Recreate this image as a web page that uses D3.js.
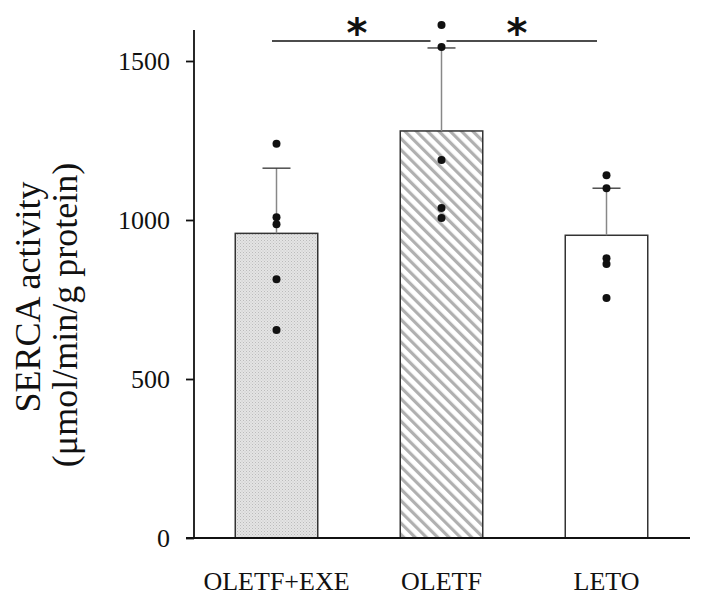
<!DOCTYPE html>
<html><head><meta charset="utf-8">
<script src="https://cdn.jsdelivr.net/npm/d3@7/dist/d3.min.js"></script>
<style>body{margin:0;background:#fff}svg{display:block}</style>
</head><body>
<svg id="c" width="709" height="598"></svg>
<script>
const categories = ["OLETF+EXE", "OLETF", "LETO"];
const means = [958, 1280, 952];
const sdUpper = [1163, 1541, 1100];
const points = [
  [1240, 1009, 987, 814, 654],
  [1613, 1544, 1189, 1038, 1006],
  [1141, 1100, 880, 862, 755]
];
const yTicks = [0, 500, 1000, 1500];
const fills = ["url(#dots)", "url(#hatch)", "#ffffff"];
const serif = "'Liberation Serif', 'Times New Roman', serif";

const svg = d3.select("#c");
const defs = svg.append("defs");
const dp = defs.append("pattern").attr("id","dots").attr("patternUnits","userSpaceOnUse").attr("width",3).attr("height",3);
dp.append("rect").attr("width",3).attr("height",3).attr("fill","#e4e4e4");
dp.append("rect").attr("x",0).attr("y",0).attr("width",1).attr("height",1).attr("fill","#bbbbbb");
dp.append("rect").attr("x",1.5).attr("y",1.5).attr("width",1).attr("height",1).attr("fill","#c6c6c6");
const hp = defs.append("pattern").attr("id","hatch").attr("patternUnits","userSpaceOnUse").attr("width",8).attr("height",8).attr("patternTransform","rotate(-45)");
hp.append("rect").attr("width",8).attr("height",8).attr("fill","#ffffff");
hp.append("rect").attr("x",0).attr("y",0).attr("width",3.2).attr("height",8).attr("fill","#b0b0b0");

const y = d3.scaleLinear().domain([0, 1500]).range([538, 61]);
const x = d3.scaleBand().domain(categories).range([194, 689]).paddingInner(0.5).paddingOuter(0.25);

// bars
const g = svg.append("g");
categories.forEach((c,i)=>{
  const bx = x(c), bw = x.bandwidth(), cx = bx + bw/2;
  g.append("rect").attr("x",bx).attr("y",y(means[i])).attr("width",bw).attr("height",y(0)-y(means[i]))
    .attr("fill",fills[i]).attr("stroke","#333").attr("stroke-width",1.5);
  g.append("line").attr("x1",cx).attr("x2",cx).attr("y1",y(means[i])).attr("y2",y(sdUpper[i])).attr("stroke","#888").attr("stroke-width",1.5);
  g.append("line").attr("x1",cx-14).attr("x2",cx+14).attr("y1",y(sdUpper[i])).attr("y2",y(sdUpper[i])).attr("stroke","#333").attr("stroke-width",1.3);
  points[i].forEach(v=>{
    g.append("circle").attr("cx",cx).attr("cy",y(v)).attr("r",4).attr("fill","#111");
  });
});

// axes
const ya = svg.append("g").attr("transform","translate(194,0)")
  .call(d3.axisLeft(y).tickValues(yTicks).tickFormat(d3.format("d")).tickSize(8).tickSizeOuter(0).tickPadding(16));
ya.select(".domain").remove();
ya.append("line").attr("x1",0).attr("x2",0).attr("y1",30).attr("y2",538).attr("stroke","#111").attr("stroke-width",1.8);
ya.selectAll(".tick line").attr("stroke","#111").attr("stroke-width",1.8);
ya.selectAll(".tick text").attr("font-family",serif).attr("font-size",26).attr("fill","#111");

svg.append("line").attr("x1",186).attr("x2",690).attr("y1",538).attr("y2",538).attr("stroke","#111").attr("stroke-width",2);

categories.forEach(c=>{
  svg.append("text").attr("x",x(c)+x.bandwidth()/2).attr("y",590)
    .attr("text-anchor","middle")
    .attr("font-family",serif).attr("font-size",26).attr("fill","#111").text(c);
});

// y title
svg.append("text").attr("transform","translate(40,297) rotate(-90)").attr("text-anchor","middle")
  .attr("font-family",serif).attr("font-size",36).attr("fill","#111").text("SERCA activity");
svg.append("text").attr("transform","translate(77,315) rotate(-90)").attr("text-anchor","middle")
  .attr("font-family",serif).attr("font-size",36).attr("fill","#111").text("(μmol/min/g protein)");

// significance
const cx1 = x(categories[1])+x.bandwidth()/2;
svg.append("line").attr("x1",272).attr("x2",cx1-11).attr("y1",41).attr("y2",41).attr("stroke","#111").attr("stroke-width",1.5);
svg.append("line").attr("x1",cx1+5).attr("x2",597).attr("y1",41).attr("y2",41).attr("stroke","#111").attr("stroke-width",1.5);
[357, 517].forEach(sx=>{
  svg.append("text").attr("x",sx).attr("y",47).attr("text-anchor","middle")
    .attr("font-family","'DejaVu Sans', sans-serif").attr("font-weight","bold").attr("font-size",40).attr("fill","#111").text("*");
});
</script>
</body></html>
